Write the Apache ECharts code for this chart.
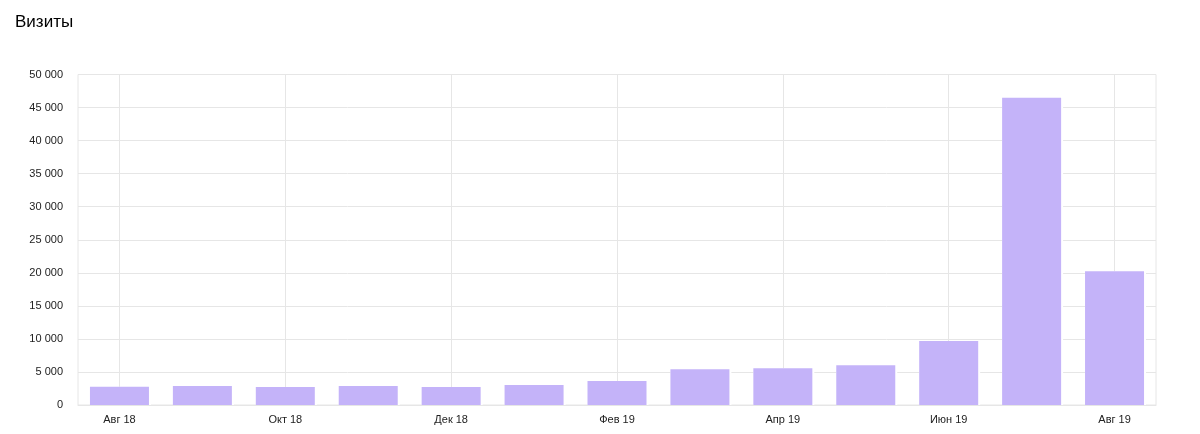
<!DOCTYPE html>
<html>
<head>
<meta charset="utf-8">
<script src="https://cdn.jsdelivr.net/npm/echarts@6/dist/echarts.min.js"></script>
<style>
html,body{margin:0;padding:0;background:#fff;}
#chart{width:1200px;height:434px;}
</style>
</head>
<body>
<div id="chart"></div>
<script>
const categories = ['Авг 18','Сен 18','Окт 18','Ноя 18','Дек 18','Янв 19','Фев 19','Мар 19','Апр 19','Май 19','Июн 19','Июл 19','Авг 19'];
const visits = [2770, 2870, 2720, 2870, 2720, 3030, 3630, 5400, 5550, 6000, 9700, 46500, 20250];
const yTicks = { min: 0, max: 50000, interval: 5000 };

function fmt(v){ return String(v).replace(/\B(?=(\d{3})+(?!\d))/g, ' '); }

const font = 'Liberation Sans, Arial, sans-serif';
const chart = echarts.init(document.getElementById('chart'), null, {renderer:'canvas'});
chart.setOption({
  animation: false,
  backgroundColor: '#fff',
  title: {
    text: 'Визиты',
    left: 10, top: 9,
    textStyle: { fontFamily: font, fontSize: 17, fontWeight: 'normal', color: '#000' }
  },
  grid: {
    left: 78, right: 44, top: 74.5, bottom: 29,
    show: true, borderColor: '#e6e6e6', borderWidth: 1, containLabel: false
  },
  xAxis: {
    type: 'category',
    data: categories,
    axisLine: { show: true, lineStyle: { color: '#e6e6e6' } },
    axisTick: { show: false, alignWithLabel: true, interval: 1 },
    axisLabel: { interval: 1, margin: 9, color: '#222', fontSize: 11, fontFamily: font },
    splitLine: { show: true, interval: 1, alignWithLabel: true, lineStyle: { color: '#e6e6e6', width: 1 } }
  },
  yAxis: {
    type: 'value',
    min: yTicks.min, max: yTicks.max, interval: yTicks.interval,
    axisLine: { show: false },
    axisTick: { show: false },
    axisLabel: { margin: 15, color: '#222', fontSize: 11, fontFamily: font, formatter: fmt },
    splitLine: { show: true, lineStyle: { color: '#e6e6e6', width: 1 } }
  },
  series: [{
    type: 'bar',
    data: visits,
    barWidth: 61,
    z: 1,
    silent: true,
    itemStyle: { color: '#ffffff', borderColor: '#ffffff', borderWidth: 2 }
  }, {
    type: 'bar',
    data: visits,
    barWidth: 59,
    barGap: '-100%',
    z: 2,
    itemStyle: { color: '#c4b3f9' }
  }]
});
</script>
</body>
</html>
